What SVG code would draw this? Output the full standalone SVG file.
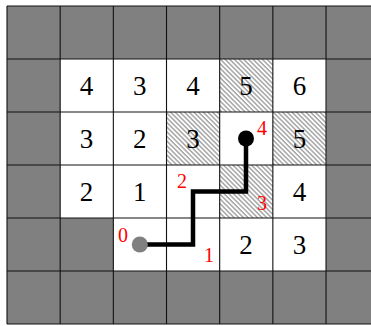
<svg xmlns="http://www.w3.org/2000/svg" width="371" height="326" viewBox="0 0 371 326">
<style>
.w{fill:#ffffff}
.h{fill:url(#hatch)}
.g{stroke:#111;stroke-width:1.1;fill:none}
.n{font-family:"Liberation Serif","DejaVu Serif",serif;font-size:27px;fill:#000;text-anchor:middle}
.r{font-family:"Liberation Serif","DejaVu Serif",serif;font-size:20px;fill:#ff0000;text-anchor:middle}
</style>
<defs>
<pattern id="hatch" patternUnits="userSpaceOnUse" width="10" height="3.3" patternTransform="rotate(45)">
<line x1="-1" y1="1.6" x2="11" y2="1.6" stroke="#444" stroke-width="0.8"/>
</pattern>
</defs>
<rect x="0" y="0" width="371" height="326" fill="#fff"/>
<g id="board">
<rect x="7" y="6" width="372" height="318" fill="#808080"/>
<g id="cells">
<rect class="w" x="60.17" y="59" width="266" height="159"/>
<rect class="w" x="113.34" y="218" width="212.7" height="53"/>
<rect class="h" x="219.68" y="59" width="53.17" height="53"/>
<rect class="h" x="166.51" y="112" width="53.17" height="53"/>
<rect class="h" x="272.85" y="112" width="53.17" height="53"/>
<rect class="h" x="219.68" y="165" width="53.17" height="53"/>
</g>
<g id="grid" class="g">
<path d="M7,6V324M60.17,6V324M113.34,6V324M166.51,6V324M219.68,6V324M272.85,6V324M326.02,6V324"/>
<path d="M7,6H371M7,59H371M7,112H371M7,165H371M7,218H371M7,271H371M7,324H371"/>
</g>
</g>
<g id="values">
<text class="n" x="86.6" y="94.5">4</text>
<text class="n" x="139.8" y="94.5">3</text>
<text class="n" x="192.9" y="94.5">4</text>
<text class="n" x="246.1" y="94.5">5</text>
<text class="n" x="299.4" y="94.5">6</text>
<text class="n" x="86.6" y="147.5">3</text>
<text class="n" x="139.8" y="147.5">2</text>
<text class="n" x="192.9" y="147.5">3</text>
<text class="n" x="299.4" y="147.5">5</text>
<text class="n" x="86.6" y="200.5">2</text>
<text class="n" x="139.8" y="200.5">1</text>
<text class="n" x="299.4" y="200.5">4</text>
<text class="n" x="246.1" y="253.5">2</text>
<text class="n" x="299.4" y="253.5">3</text>
</g>
<g id="connectors">
<path d="M139.8,244.5H193V191.5H246V138.5" fill="none" stroke="#000" stroke-width="4.5" stroke-linejoin="miter"/>
</g>
<g id="start">
<circle cx="139.8" cy="244.5" r="8" fill="#808080"/>
</g>
<g id="end">
<circle cx="246" cy="138.5" r="8" fill="#000"/>
</g>
<g id="steps">
<text class="r" x="123" y="242">0</text>
<text class="r" x="209" y="262">1</text>
<text class="r" x="182" y="188">2</text>
<text class="r" x="262" y="210">3</text>
<text class="r" x="262" y="135">4</text>
</g>
</svg>
